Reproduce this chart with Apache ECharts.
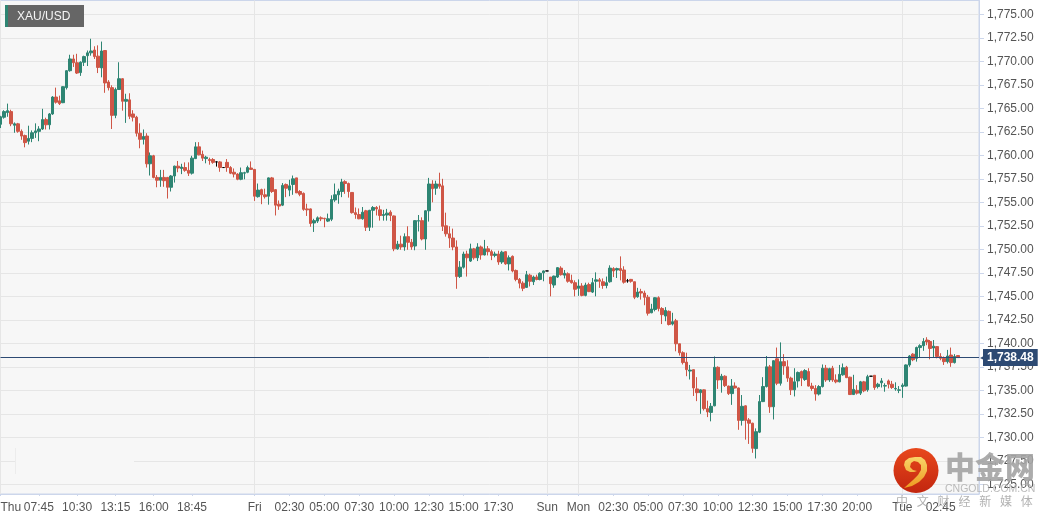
<!DOCTYPE html>
<html>
<head>
<meta charset="utf-8">
<style>
html, body { margin: 0; padding: 0; background: #fff; }
#chart { width: 1050px; height: 520px; }
</style>
<script src="https://cdn.jsdelivr.net/npm/echarts@6/dist/echarts.min.js"></script>
</head>
<body>
<div id="chart"></div>
<script>
// bars are [open, close, low, high], 15 min each
const thuBars = [
  [1763.3,1764.1,1762.9,1764.2],[1764.05,1764.65,1763.9,1764.8],[1764.55,1764.75,1764.1,1765.5],[1764.65,1763.35,1763.1,1764.85],
  [1763.2,1763.35,1762.4,1763.5],[1763.35,1762.55,1762.4,1763.45],[1762.55,1762.05,1761.65,1762.75],[1762.1,1761.35,1760.85,1762.2],
  [1761.5,1761.8,1761.15,1763.15],[1761.8,1762.4,1761.4,1762.65],[1762.4,1762.6,1761.85,1763.4],[1762.55,1762.8,1761.5,1763.1],
  [1762.8,1763.8,1762.7,1764.95],[1763.8,1763.25,1762.75,1764],[1763.25,1764.4,1762.75,1764.5],[1764.4,1766.2,1764.3,1766.3],
  [1766.2,1765.65,1765.5,1767.2],[1765.8,1765.5,1765.35,1766.35],[1765.6,1767.3,1765.55,1767.35],[1767.2,1769,1767,1769.05],
  [1769,1770.25,1768.9,1770.7],[1770.25,1769.85,1769.4,1770.7],[1769.85,1768.75,1768.65,1770.8],[1768.8,1769.9,1768.45,1770],
  [1769.9,1770.5,1769.5,1770.6],[1770.6,1770.9,1769.5,1771.15],[1770.9,1771.1,1770.6,1772.4],[1771.2,1770.5,1770.25,1771.6],
  [1770.55,1769.35,1768.75,1771.7],[1769.3,1771.1,1768.3,1772.1],[1771.15,1767.7,1766.65,1771.2],[1767.8,1767.2,1766.9,1768],
  [1767.2,1764.25,1762.8,1767.45],[1764.25,1767,1763.95,1767.2],[1767,1768.15,1766.95,1769.9],[1768.15,1765.75,1764.75,1768.2],
  [1765.75,1765.95,1763.45,1766.55],[1765.9,1764.15,1763.85,1766.6],[1764.4,1764.05,1763.6,1764.8],[1764.05,1762.35,1762,1764.2],
  [1762.35,1761.7,1760.75,1763.4],[1761.7,1762,1761.15,1762.75],[1762.05,1759.1,1758.7,1762.35],[1759.1,1759.95,1757.85,1760.3],
  [1759.95,1757.65,1757.55,1760.05],[1757.65,1757.35,1756.6,1757.9],[1757.35,1757.65,1756.65,1758.45],[1757.65,1757.3,1756.65,1758.45],
  [1757.65,1756.6,1755.4,1757.7],[1756.6,1757.8,1756.15,1757.9],[1757.8,1758.85,1757.1,1758.9],[1758.85,1758.65,1758.2,1759.4],
  [1758.6,1758.75,1758,1759.1],[1758.7,1758.4,1758.25,1759.25],[1758.4,1758.1,1757.8,1759.25],[1758.1,1759.7,1757.95,1759.95],
  [1759.65,1760.9,1759.6,1761.4],[1760.9,1760.05,1760,1761.4],[1760.1,1759.7,1759.4,1760.5],[1759.65,1759.8,1759.15,1759.95],
  [1759.55,1759.45,1759,1759.75],[1759.55,1759.25,1759.1,1759.7],[1759.3,1759.3,1758.8,1759.35],[1759.3,1758.7,1758.25,1759.4],
  [1758.7,1758.7,1758.7,1758.7],[1759.25,1758.7,1758.25,1759.6],[1758.7,1758.1,1758,1758.85],[1758.2,1758,1757.65,1758.6],
  [1758,1757.45,1757.35,1758.1],[1757.45,1758.15,1757.35,1758.7],[1758.1,1758.15,1757.45,1758.25],[1758.2,1758.7,1758.1,1758.9],
  [1758.65,1758.5,1758.45,1759.35]
];
const friBars = [
  [1758.5,1755.65,1755.15,1758.55],[1755.6,1756.3,1755.5,1757],[1756.35,1755.8,1754.8,1756.45],[1755.8,1755.6,1755.4,1756.45],
  [1755.65,1757.6,1754.75,1757.65],[1757.6,1756.15,1756,1757.7],[1756.35,1754.7,1753.6,1756.4],[1754.8,1754.6,1754.2,1755.2],
  [1754.7,1756.8,1754.6,1757.05],[1756.9,1756.5,1755.55,1757],[1756.3,1756.75,1755.65,1757.4],[1756.9,1757.5,1755.8,1757.85],
  [1757.6,1756,1756,1757.6],[1756.15,1755.85,1755.65,1756.3],[1755.95,1754.25,1754.1,1756.05],[1754.3,1754.2,1753.55,1754.85],
  [1754.3,1752.75,1752.4,1754.35],[1752.8,1753.05,1751.85,1753.25],[1753,1753.35,1752.8,1753.5],[1753.35,1753.25,1753,1753.5],
  [1753.3,1753.25,1752.35,1753.35],[1753,1753.25,1752.9,1753.8],[1753.2,1755.3,1753,1755.75],[1755.25,1755.8,1755.05,1757],
  [1755.8,1756.2,1754.85,1756.45],[1756.15,1757.15,1755.55,1757.5],[1757.2,1757,1755.9,1757.35],[1757,1756.15,1755.5,1757.1],
  [1756.05,1753.9,1753.8,1756.05],[1753.9,1753.7,1753.25,1754.45],[1753.7,1753.25,1753.2,1754.35],[1753.25,1753.95,1753.15,1754.5],
  [1754.1,1752.35,1751.95,1754.2],[1752.35,1754.15,1751.95,1754.2],[1754.15,1754.45,1752.3,1754.6],[1754.45,1754.3,1753.6,1754.6],
  [1754.2,1753.6,1753.05,1754.65],[1753.6,1753.7,1753.05,1754.2],[1753.65,1753.85,1753.05,1754.3],[1753.95,1753.6,1753,1754.15],
  [1753.55,1750.05,1749.8,1753.6],[1750.05,1750.55,1749.95,1750.9],[1750.55,1750.25,1749.95,1751.45],[1750.25,1751.35,1749.85,1751.7],
  [1751.35,1750.75,1749.95,1752.45],[1750.75,1750.25,1749.95,1751.1],[1750.35,1753.05,1749.9,1753.1],[1753,1753.05,1751.9,1753.65],
  [1753.05,1751.1,1750.95,1753.4],[1751.1,1754.1,1749.95,1754.15],[1754.1,1756.95,1752.95,1757.6],[1756.95,1756.45,1755,1757.35],
  [1756.5,1756.95,1755.8,1757.3],[1756.95,1756.7,1756.45,1758.15],[1756.75,1752.45,1751.95,1757.5],[1752.5,1751.65,1751.35,1753.9],
  [1751.65,1751.2,1750.15,1752.45],[1751.2,1750.25,1749.9,1752.2],[1750.25,1747.1,1745.8,1750.95],[1747.1,1748.1,1746.95,1748.75],
  [1748.1,1749.5,1747.95,1749.75],[1749.5,1749.1,1747.1,1749.85],[1748.75,1750.05,1748.65,1750.6],[1750.05,1749.1,1748.9,1750.15],
  [1749.1,1750.25,1748.75,1750.65],[1750.25,1749.4,1748.9,1750.4],[1749.4,1750.05,1749.35,1751],[1750.05,1749.75,1749.35,1750.35],
  [1749.75,1749.35,1748.85,1749.95],[1749.35,1749.5,1749.15,1749.75],[1749.5,1748.65,1748.35,1749.85],[1748.65,1749.7,1748.45,1749.85],
  [1749.75,1748.45,1748.35,1749.8],[1748.45,1749.1,1747.75,1749.35],[1749.25,1747.7,1747.55,1749.35],[1747.75,1746.8,1746.6,1747.85],
  [1746.8,1746.4,1745.85,1746.95],[1746.4,1745.85,1745.55,1746.6],[1745.95,1747.3,1745.9,1747.7],[1747.25,1746.6,1746.05,1747.4],
  [1746.55,1747.05,1746.2,1747.2],[1747.05,1746.8,1746.7,1747.3],[1746.8,1747.45,1746.7,1747.55],[1747.5,1747.7,1746.6,1747.75]
];
const sunBars = [
  [1747.7,1747.7,1747.7,1747.7],[1747.05,1746.35,1745,1747.05],[1746.2,1747.15,1745.9,1747.2],[1747.05,1748.05,1746.95,1748.1],
  [1748,1747.3,1747.2,1748.2],[1747.25,1747.45,1746.9,1747.8],[1747.4,1746.6,1746.45,1747.55],[1746.7,1746.45,1746.35,1747.3],
  [1746.45,1745.75,1745,1746.7]
];
const monBars = [
  [1745.85,1746.1,1745.05,1746.8],[1746.1,1745.1,1745,1746.4],[1745.1,1746.2,1745,1746.45],[1746.25,1745.5,1745.45,1746.45],
  [1745.45,1746.45,1745.35,1746.95],[1746.6,1746.75,1745,1747.55],[1746.75,1746.6,1745.9,1746.95],[1746.55,1746.15,1745.8,1746.9],
  [1746.15,1746.45,1745.85,1747.1],[1746.55,1748,1746.45,1748.3],[1747.95,1747.7,1747.05,1748.1],[1747.8,1747.95,1746.95,1748.05],
  [1747.95,1747.75,1746.7,1749.25],[1747.8,1746.5,1746.35,1748.2],[1746.65,1746.65,1746.45,1746.85],[1746.8,1746.6,1746.45,1746.85],
  [1746.55,1744.9,1744.7,1746.55],[1744.95,1745.45,1744.85,1745.9],[1745.5,1745.35,1744.65,1745.8],[1745.35,1744.9,1744.05,1745.6],
  [1744.9,1743.2,1742.95,1745.15],[1743.25,1743.65,1743.2,1744.2],[1743.6,1744.85,1743.4,1744.9],[1744.85,1743.7,1743.4,1745],
  [1743.7,1743.05,1742.05,1743.85],[1742.9,1743.5,1742.35,1743.85],[1743.4,1742,1741.9,1743.5],[1742.05,1742.3,1741.9,1743.25],
  [1742.4,1739.95,1739.15,1742.6],[1739.95,1739,1738.7,1739.95],[1739,1737.95,1737.75,1739.15],[1738,1737.2,1736.5,1739],
  [1737.05,1737.15,1736.15,1737.7],[1737.2,1735.25,1734.4,1737.2],[1735.15,1734.75,1733.85,1736.4],[1734.75,1735.05,1732.5,1735.1],
  [1735.05,1733.05,1732.85,1735.1],[1733.05,1732.7,1732.15,1733.9],[1732.65,1733.3,1731.7,1733.65],[1733.35,1737.45,1733.3,1738.6],
  [1737.45,1736.1,1735.15,1737.55],[1736.1,1736.5,1734.75,1736.75],[1736.5,1735.5,1735.35,1736.6],[1735.45,1734.65,1734.5,1735.5],
  [1734.65,1735.45,1733.45,1736.2],[1735.45,1735.25,1735.2,1735.85],[1735.25,1731.8,1730.8,1735.3],[1731.8,1733.3,1731.25,1734.5],
  [1733.35,1731.8,1729.75,1733.4],[1731.85,1731.5,1729.3,1732.05],[1731.5,1728.83,1728.35,1731.55],[1728.8,1730.6,1727.75,1730.95],
  [1730.55,1733.8,1730.45,1734.5],[1733.8,1735.4,1733.75,1736.4],[1735.4,1737.5,1735.3,1738.65],[1737.5,1733.25,1732.6,1737.7],
  [1733.25,1738.15,1731.9,1738.2],[1738.35,1735.75,1735.55,1739.55],[1735.75,1738.05,1735.5,1740.1],[1738.05,1737.6,1736.65,1738.85],
  [1737.5,1736.3,1735.9,1738.2],[1736.3,1735.05,1734.5,1736.45],[1735.05,1735.9,1734.35,1737.35],[1736,1736.9,1735.3,1737],
  [1737,1736.3,1735.45,1737.1],[1736.15,1737.1,1736,1737.25],[1737,1735.45,1735.4,1737.35],[1735.45,1735.2,1734.95,1735.8],
  [1735.2,1734.6,1733.9,1735.55],[1734.6,1735.4,1734.45,1735.55],[1735.4,1737.35,1735.3,1737.75],[1737.35,1736.1,1735.9,1737.7],
  [1736.1,1737.3,1735.9,1737.4],[1737.35,1736.1,1735.9,1737.6],[1736.1,1735.9,1735.75,1736.7],[1735.9,1736.7,1735.85,1737.7],
  [1736.65,1737.4,1736.55,1737.85],[1737.45,1736.35,1736.3,1737.6],[1736.4,1734.55,1734.5,1736.45],[1734.55,1735.1,1734.5,1736.65],
  [1735,1734.7,1734.55,1735.55],[1734.7,1735.9,1734.5,1736],[1735.9,1734.95,1734.8,1736],[1735.05,1736.45,1734.85,1736.65],
  [1736.5,1736.5,1736.5,1736.5],[1736.6,1735.3,1735.05,1736.6],[1735.4,1735.65,1735.2,1735.8],[1735.8,1736,1735.3,1736.3],
  [1735.45,1735.5,1734.85,1735.75],[1736,1735.65,1735.2,1736.15],[1735.65,1735.3,1735.15,1736],[1735.15,1735.2,1734.95,1735.85],
  [1735,1735.05,1734.7,1735.45]
];
const tueBars = [
  [1735.4,1735.55,1734.2,1735.75],[1735.45,1737.7,1735.4,1737.75],[1737.7,1738.65,1737.5,1738.75],[1738.85,1738.25,1738.1,1738.95],
  [1738.4,1739.55,1738.05,1739.65],[1739.55,1739.75,1738.5,1739.9],[1739.75,1740.2,1739.2,1740.55],[1740.35,1740.15,1739.8,1740.65],
  [1740.2,1739.45,1738.3,1740.35],[1739.5,1739.7,1738.5,1740.35],[1739.65,1738.6,1738.4,1739.7],[1738.6,1738.4,1738.2,1738.95],
  [1738.4,1738.05,1737.7,1738.6],[1738.05,1738.65,1737.85,1739.3],[1738.75,1737.95,1737.5,1739.55],[1737.95,1738.6,1737.85,1738.85],
  [1738.7,1738.48,1738.48,1738.75]
];

const lastPrice = 1738.48;
const priceTicks = [1725,1727.5,1730,1732.5,1735,1737.5,1740,1742.5,1745,1747.5,1750,1752.5,1755,1757.5,1760,1762.5,1765,1767.5,1770,1772.5,1775];
const timeBars = [0,11,22,33,44,55,73,83,93,103,113,123,133,143,157,166,176,186,196,206,216,226,236,246,259,270];
const timeLabels = ['Thu','07:45','10:30','13:15','16:00','18:45','Fri','02:30','05:00','07:30','10:00','12:30','15:00','17:30','Sun','Mon','02:30','05:00','07:30','10:00','12:30','15:00','17:30','20:00','Tue','02:45'];
const dayNames = ['Thu','Fri','Sun','Mon','Tue'];
const slotCount = 282;

const bars = [].concat(thuBars, friBars, sunBars, monBars, tueBars);
const categories = new Array(slotCount).fill('');
timeBars.forEach((b, i) => { categories[b] = timeLabels[i]; });

const frameColor = '#ccd6eb';
const gridColor = '#e6e6e6';
const textColor = '#555';
const fontFamily = '"Liberation Sans", Arial, sans-serif';
const navy = '#2d4a73';

const fmtPrice = v => v.toLocaleString('en-US', {minimumFractionDigits: 2, maximumFractionDigits: 2});

const chart = echarts.init(document.getElementById('chart'), null, {renderer: 'canvas'});

const wmText = '中文财经新媒体'.split('').map((ch, i) => ({
    type: 'text', z: 100, silent: true,
    style: {x: 902 + 20.8 * i, y: 501, text: ch, align: 'center', verticalAlign: 'middle',
            font: '12px "Noto Sans CJK SC"', fill: 'rgba(165,165,165,0.85)'}
}));

// swirl inside the watermark logo
const logoSwirl = [[904,488],[912,486],[919,482],[924,477],[927,471],[927,465],[925,460],[921,457],[915,457],[909,458],[905,461],[904,465],[906,470],[910,472],[914,472],[917,471],[913,470],[910,467],[911,463],[914,461],[918,462],[921,465],[921,470],[918,475],[913,480]];

chart.setOption({
    animation: false,
    backgroundColor: '#fff',
    grid: {left: 0.5, top: 0.5, width: 978.5, height: 493.5, show: true, outerBoundsMode: 'none',
           backgroundColor: '#f7f7f7', borderColor: frameColor, borderWidth: 1},
    xAxis: {
        type: 'category',
        data: categories,
        boundaryGap: false,
        axisLine: {lineStyle: {color: frameColor, width: 1}},
        axisTick: {alignWithLabel: true, length: 2, lineStyle: {color: frameColor},
                   interval: (i, v) => v !== ''},
        axisLabel: {interval: (i, v) => v !== '', color: textColor, fontSize: 12, fontFamily: fontFamily,
                    margin: 8, hideOverlap: false, alignMinLabel: 'left'},
        splitLine: {show: true, lineStyle: {color: gridColor, width: 1},
                    interval: (i, v) => dayNames.indexOf(v) >= 0}
    },
    yAxis: {
        type: 'value',
        position: 'right',
        min: 1723.97,
        max: 1776.47,
        axisLine: {show: true, lineStyle: {color: frameColor, width: 1}},
        axisTick: {show: true, length: 5, lineStyle: {color: frameColor}, customValues: priceTicks},
        axisLabel: {color: textColor, fontSize: 12, fontFamily: fontFamily, margin: 8,
                    customValues: priceTicks, formatter: fmtPrice},
        splitLine: {show: true, lineStyle: {color: gridColor, width: 1}}
    },
    series: [{
        type: 'candlestick',
        data: bars,
        barWidth: 3,
        itemStyle: {color: '#2e8573', color0: '#cf5646', borderColor: '#2e8573', borderColor0: '#cf5646',
                    borderColorDoji: '#000', borderWidth: 1},
        markLine: {
            silent: true,
            symbol: 'none',
            animation: false,
            lineStyle: {color: navy, width: 1, type: 'solid'},
            data: [{yAxis: lastPrice}],
            label: {
                position: 'end',
                distance: 1,
                formatter: () => '{a|◀}{b|' + fmtPrice(lastPrice) + '}',
                rich: {
                    a: {color: navy, fontSize: 8, fontFamily: '"DejaVu Sans"', width: 3},
                    b: {color: '#fff', fontSize: 12, fontWeight: 'bold', fontFamily: fontFamily,
                        backgroundColor: navy, padding: [3, 4, 2, 4], lineHeight: 12}
                }
            }
        }
    }],
    graphic: [
        // legend tag
        {type: 'rect', z: 100, silent: true, shape: {x: 5, y: 5, width: 79, height: 22}, style: {fill: '#666'}},
        {type: 'rect', z: 101, silent: true, shape: {x: 5, y: 5, width: 3, height: 22}, style: {fill: '#2e8573'}},
        {type: 'text', z: 101, silent: true,
         style: {x: 17, y: 16.5, text: 'XAU/USD', verticalAlign: 'middle', font: '12px ' + fontFamily, fill: '#f5f5f5'}},
        // rubbed out patch of the 1,727.50 grid line
        {type: 'rect', z: 1, silent: true, shape: {x: 16, y: 449, width: 118, height: 25}, style: {fill: '#f7f7f7'}},
        {type: 'line', z: 1, silent: true, shape: {x1: 15.5, y1: 448, x2: 15.5, y2: 474}, style: {stroke: '#ececec', lineWidth: 1}},
        // watermark
        {type: 'circle', z: 100, silent: true, shape: {cx: 916, cy: 470.5, r: 22.5},
         style: {fill: new echarts.graphic.LinearGradient(0, 0, 0, 1, [
             {offset: 0, color: '#e8481c'}, {offset: 1, color: '#c2260f'}])}},
        {type: 'polygon', z: 101, silent: true, shape: {points: logoSwirl},
         style: {fill: new echarts.graphic.LinearGradient(0, 0, 0, 1, [
             {offset: 0, color: '#f8d468'}, {offset: 1, color: '#ee9a20'}])}},
        {type: 'text', z: 100, silent: true,
         style: {x: 945, y: 467, text: '中金网', verticalAlign: 'middle', font: '900 30px "Noto Sans CJK SC"', fill: 'rgba(165,165,165,0.92)'}},
        {type: 'text', z: 100, silent: true,
         style: {x: 945, y: 489, text: 'CNGOLD.COM.CN', verticalAlign: 'middle', font: '10.5px ' + fontFamily, fill: 'rgba(175,175,175,0.85)'}}
    ].concat(wmText)
});
</script>
</body>
</html>
